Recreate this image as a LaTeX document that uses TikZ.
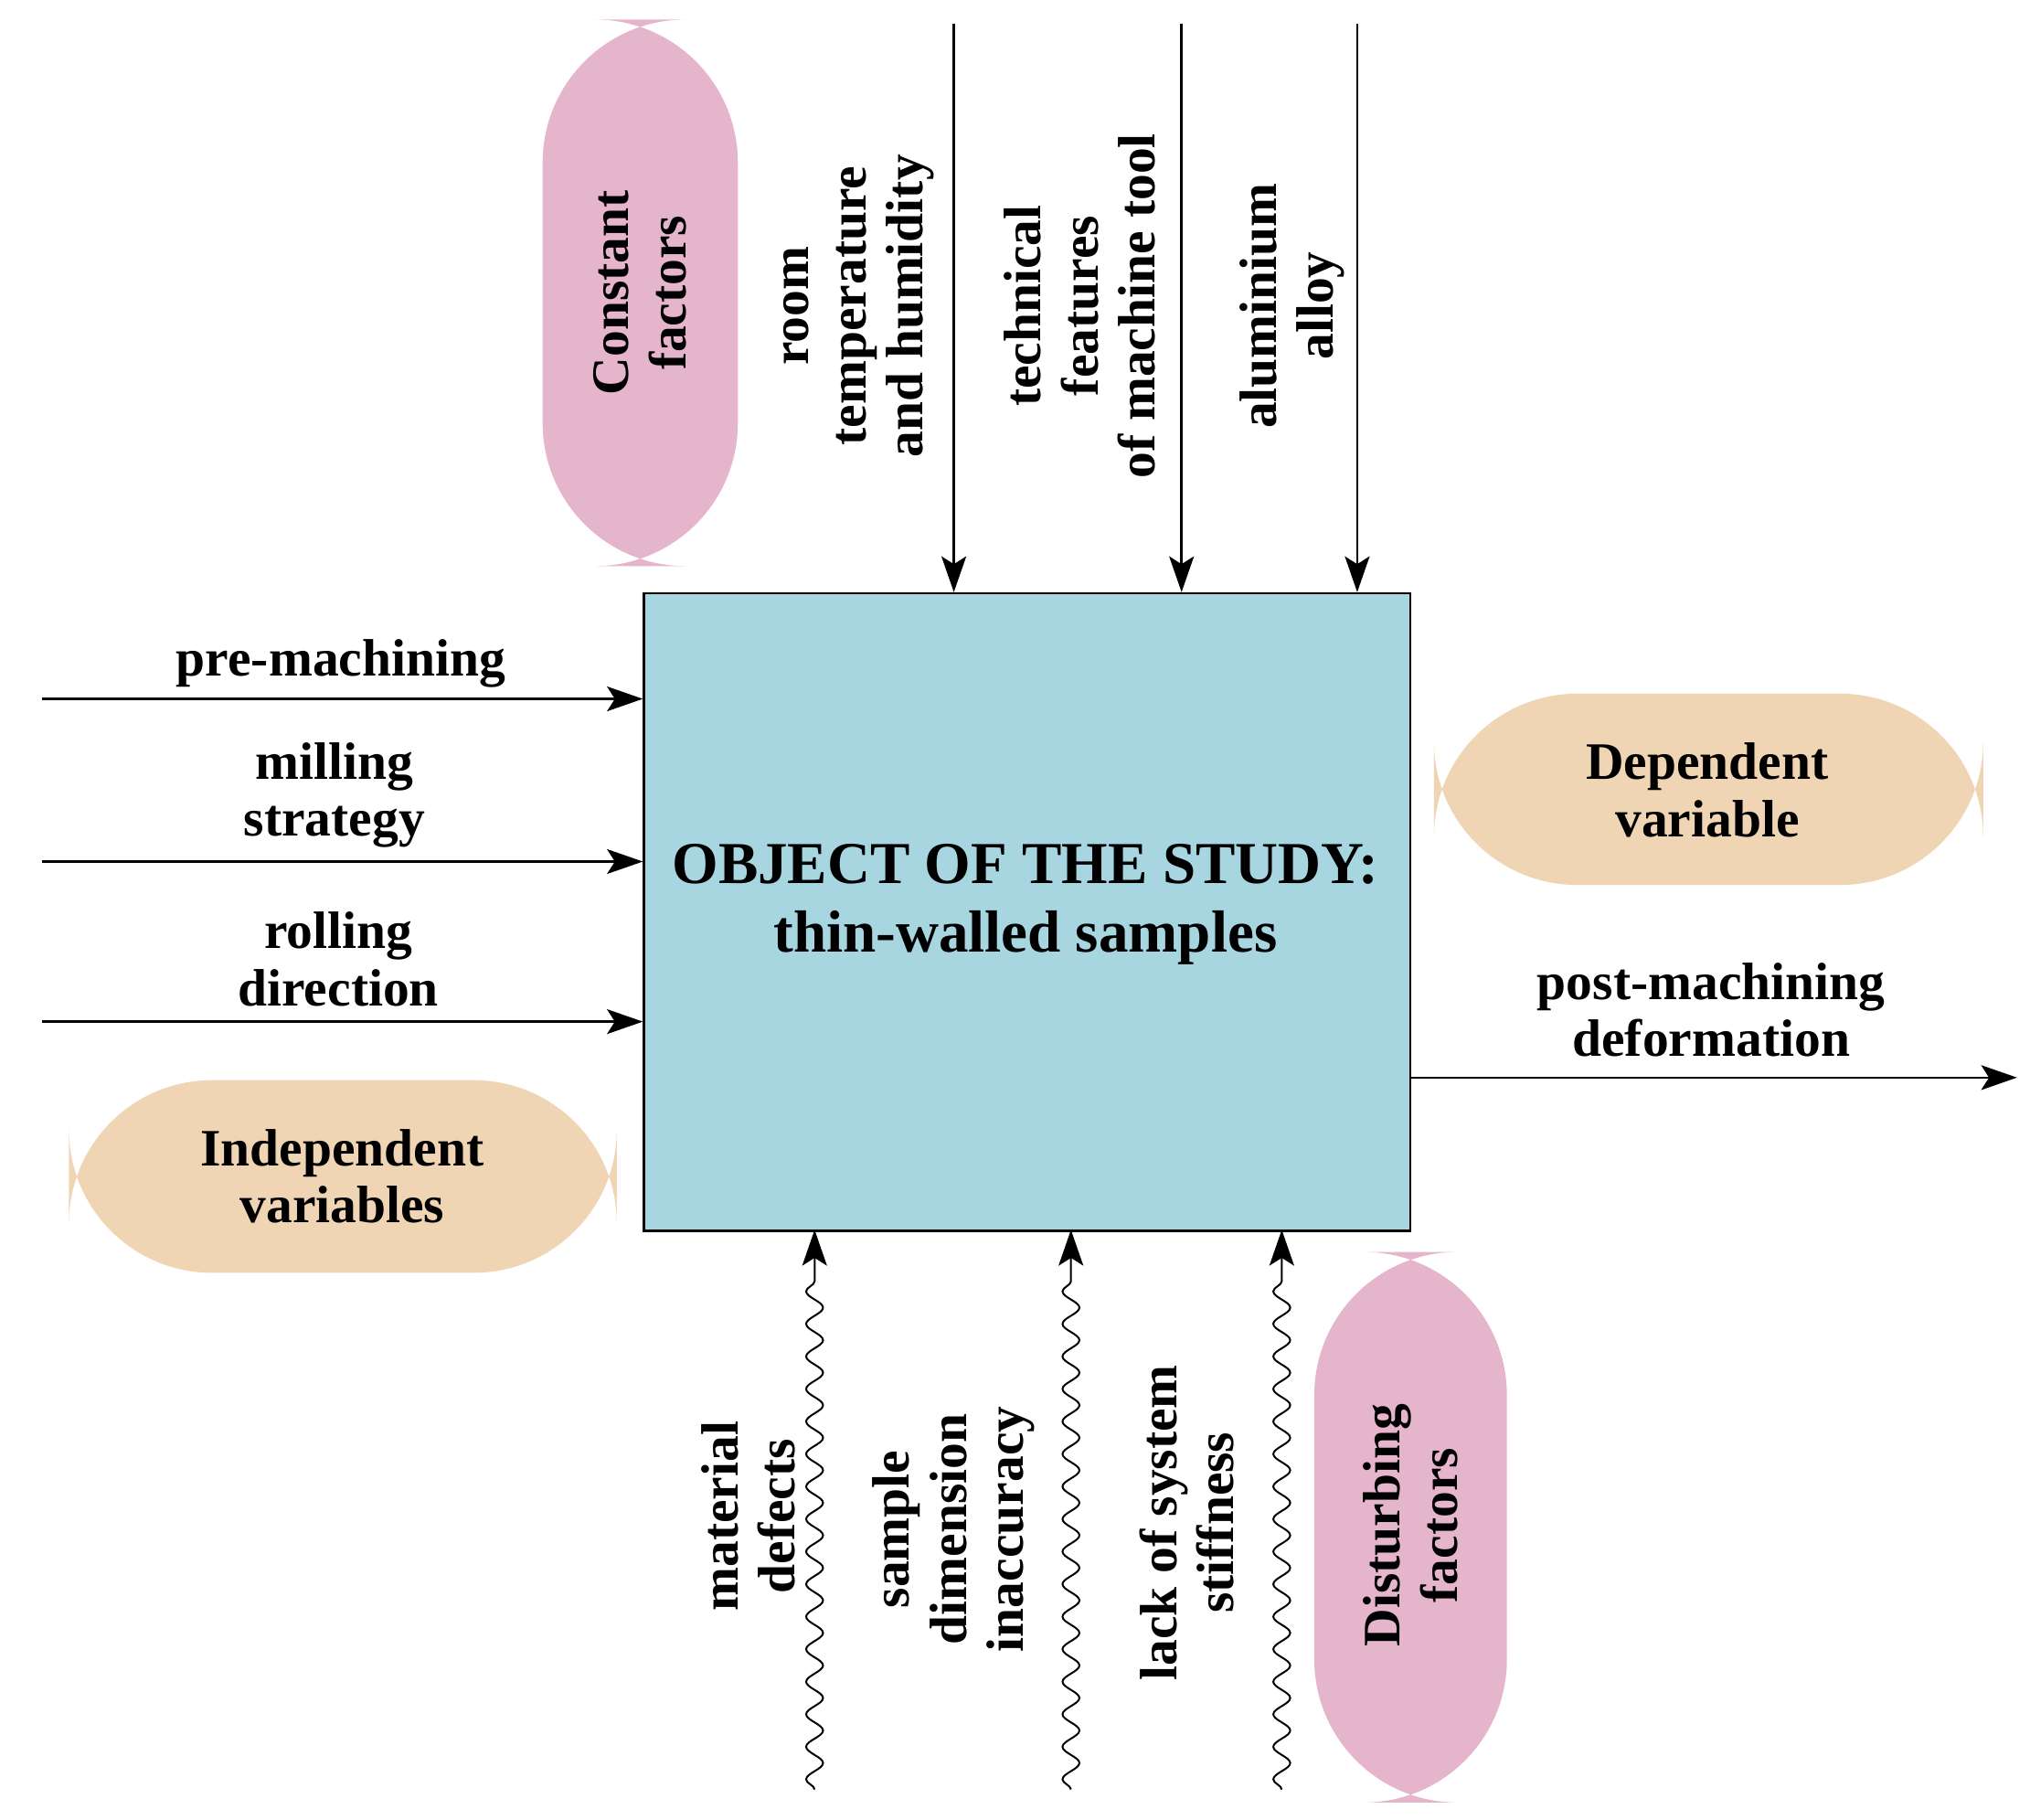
\documentclass[tikz,border=0pt]{standalone}
\usepackage{fontspec}
\setmainfont{Liberation Serif}
\usetikzlibrary{arrows.meta,decorations.pathmorphing}
\definecolor{boxblue}{RGB}{167,214,225}
\definecolor{pinkp}{RGB}{228,181,203}
\definecolor{tanp}{RGB}{240,213,180}
\begin{document}
\begin{tikzpicture}[x=0.02cm,y=-0.02cm,
  lbl/.style={font=\fontsize{23}{25}\selectfont\bfseries,align=center,inner sep=0pt},
  pill/.style={rounded corners=2.2cm,draw=none},
  arr/.style={line width=1pt,-{Stealth[length=0.55cm,width=0.38cm,inset=0.12cm]}},
  wav/.style={line width=0.8pt,decorate,decoration={snake,amplitude=1.3mm,segment length=0.5cm,post length=0.6cm},-{Stealth[length=0.55cm,width=0.38cm,inset=0.12cm]}}]
\useasboundingbox (0,0) rectangle (1560,1398);
% main box
\node[draw,line width=1pt,fill=boxblue,minimum width=589*0.02cm,minimum height=490*0.02cm,anchor=north west,inner sep=0] (box) at (494,455) {};
\node[lbl,font=\fontsize{26}{30}\selectfont\bfseries] (title) at (788,695) {OBJECT OF THE STUDY:\\thin-walled samples};
% pills
\fill[pinkp,pill] (417,15) rectangle (567,435);
\node[lbl,rotate=90] (const) at (492,225) {Constant\\factors};
\fill[pinkp,pill] (1010,962) rectangle (1158,1385);
\node[lbl,rotate=90] (dist) at (1084,1172) {Disturbing\\factors};
\fill[tanp,pill] (1102,533) rectangle (1524,680);
\node[lbl] (dep) at (1312,607) {Dependent\\variable};
\fill[tanp,pill] (53,830) rectangle (474,978);
\node[lbl] (indep) at (263,904) {Independent\\variables};
% top arrows
\coordinate (t1) at (733,18); \coordinate (t1e) at (733,455);
\coordinate (t2) at (908,18); \coordinate (t2e) at (908,455);
\coordinate (t3) at (1043,18); \coordinate (t3e) at (1043,455);
\draw[arr] (t1) -- (t1e);
\draw[arr] (t2) -- (t2e);
\draw[arr] (t3) -- (t3e);
\node[lbl,rotate=90] (room) at (660,235) {room\\temperature\\and humidity};
\node[lbl,rotate=90] (tech) at (830,235) {technical\\features\\of machine tool};
\node[lbl,rotate=90] (alu) at (993,235) {aluminium\\alloy};
% left arrows
\coordinate (l1) at (32,537); \coordinate (l1e) at (494,537);
\coordinate (l2) at (32,662); \coordinate (l2e) at (494,662);
\coordinate (l3) at (32,785); \coordinate (l3e) at (494,785);
\draw[arr] (l1) -- (l1e);
\draw[arr] (l2) -- (l2e);
\draw[arr] (l3) -- (l3e);
\node[lbl] (pre) at (262,510) {pre-machining};
\node[lbl] (mill) at (257,611) {milling\\strategy};
\node[lbl] (roll) at (260,737) {rolling\\direction};
% right arrow
\coordinate (r1) at (1083,828); \coordinate (r1e) at (1550,828);
\draw[arr] (r1) -- (r1e);
\node[lbl] (post) at (1315,776) {post-machining\\deformation};
% bottom wavy arrows
\coordinate (b1) at (626,1375); \coordinate (b1e) at (626,945);
\coordinate (b2) at (823,1375); \coordinate (b2e) at (823,945);
\coordinate (b3) at (985,1375); \coordinate (b3e) at (985,945);
\draw[wav] (b1) -- (b1e);
\draw[wav] (b2) -- (b2e);
\draw[wav] (b3) -- (b3e);
\node[lbl,rotate=90] (mat) at (575,1165) {material\\defects};
\node[lbl,rotate=90] (samp) at (733,1175) {sample\\dimension\\inaccuracy};
\node[lbl,rotate=90] (lack) at (912,1170) {lack of system\\stiffness};
\end{tikzpicture}
\end{document}
